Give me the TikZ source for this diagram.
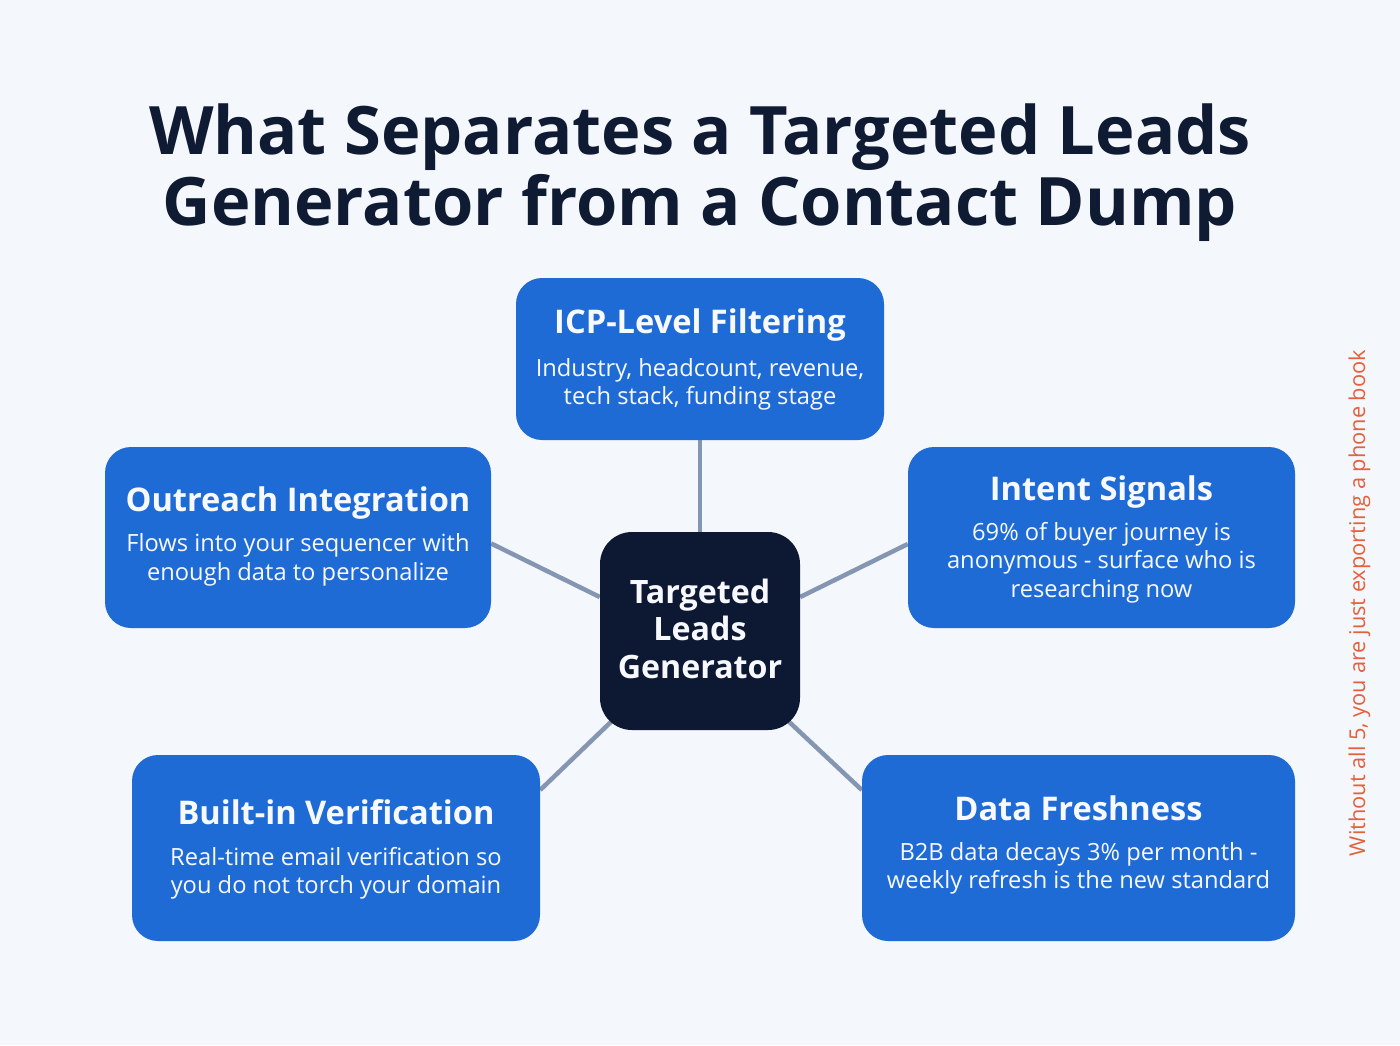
\documentclass[tikz,border=0pt]{standalone}
\usepackage{fontspec}
\setmainfont{Open Sans}
\definecolor{bgc}{HTML}{F4F7FB}
\definecolor{cardblue}{HTML}{1F6BD6}
\definecolor{navy}{HTML}{0D1833}
\definecolor{titlec}{HTML}{0F1A33}
\definecolor{linec}{HTML}{8596B2}
\definecolor{orangec}{HTML}{E5603B}
\definecolor{cardtext}{HTML}{F7F9FF}
\pgfdeclarelayer{bglayer}
\pgfdeclarelayer{linelayer}
\pgfsetlayers{bglayer,linelayer,main}
\begin{document}
\begin{tikzpicture}[x=1pt,y=1pt,
  card/.style={fill=cardblue, rounded corners=26pt, inner sep=0pt},
  hub/.style={fill=navy, rounded corners=32pt, inner sep=0pt},
  cardtitle/.style={anchor=base, text=cardtext, inner sep=0pt, font=\fontsize{32.6}{36}\selectfont\bfseries},
  cardbody/.style={anchor=base, text=cardtext, inner sep=0pt, font=\fontsize{23.7}{27}\selectfont},
  hubtext/.style={anchor=base, text=cardtext, inner sep=0pt, font=\fontsize{32.2}{38}\selectfont\bfseries},
  headline/.style={anchor=base, text=titlec, inner sep=0pt, font=\fontsize{66.8}{72}\selectfont\bfseries},
  conn/.style={draw=linec, line width=4.5pt}
]
\begin{pgfonlayer}{bglayer}
\fill[bgc] (0,0) rectangle (1400,-1045);
\end{pgfonlayer}
\useasboundingbox (0,0) rectangle (1400,-1045);

% headline
\node[headline] (h1) at (700,-154) {What Separates a Targeted Leads};
\node[headline] (h2) at (700,-225) {Generator from a Contact Dump};

% cards
\node[card, minimum width=368pt, minimum height=162pt] (icp) at (700,-359) {};
\node[hub, minimum width=200pt, minimum height=198pt] (ctr) at (700,-631) {};
\node[card, minimum width=386pt, minimum height=181pt] (out) at (298,-537.5) {};
\node[card, minimum width=387pt, minimum height=181pt] (int) at (1101.5,-537.5) {};
\node[card, minimum width=408pt, minimum height=186pt] (bi) at (336,-848) {};
\node[card, minimum width=433pt, minimum height=186pt] (df) at (1078.5,-848) {};

% card texts
\node[cardtitle] (icpT) at (700,-333) {ICP-Level Filtering};
\node[cardbody] (icpB1) at (700,-376) {Industry, headcount, revenue,};
\node[cardbody] (icpB2) at (700,-404) {tech stack, funding stage};

\node[hubtext] (ctr1) at (700,-603) {Targeted};
\node[hubtext] (ctr2) at (700,-640.5) {Leads};
\node[hubtext] (ctr3) at (700,-678) {Generator};

\node[cardtitle] (outT) at (298,-511.5) {Outreach Integration};
\node[cardbody] (outB1) at (298,-551.5) {Flows into your sequencer with};
\node[cardbody] (outB2) at (298,-580) {enough data to personalize};

\node[cardtitle] (intT) at (1101.5,-500) {Intent Signals};
\node[cardbody] (intB1) at (1101.5,-540) {69\% of buyer journey is};
\node[cardbody] (intB2) at (1101.5,-568.5) {anonymous - surface who is};
\node[cardbody] (intB3) at (1101.5,-597) {researching now};

\node[cardtitle] (biT) at (336,-824) {Built-in Verification};
\node[cardbody] (biB1) at (336,-865) {Real-time email verification so};
\node[cardbody] (biB2) at (336,-893.5) {you do not torch your domain};

\node[cardtitle] (dfT) at (1078.5,-820) {Data Freshness};
\node[cardbody] (dfB1) at (1078.5,-860) {B2B data decays 3\% per month -};
\node[cardbody] (dfB2) at (1078.5,-888.5) {weekly refresh is the new standard};

% side note
\node[anchor=base, rotate=90, text=orangec, inner sep=0pt, font=\fontsize{21.8}{25}\selectfont] (note) at (1365,-603) {Without all 5, you are just exporting a phone book};

% connectors
\begin{pgfonlayer}{linelayer}
\draw[conn] (icp.south) -- (ctr.north);
\draw[conn] ([yshift=-6pt]out.east) -- ([yshift=34pt]ctr.west);
\draw[conn] ([yshift=-6.5pt]int.west) -- ([yshift=34pt]ctr.east);
\draw[conn] ([yshift=58pt]bi.east) -- ([shift={(15pt,12pt)}]ctr.south west);
\draw[conn] ([yshift=58pt]df.west) -- ([shift={(-15pt,12pt)}]ctr.south east);
\end{pgfonlayer}
\end{tikzpicture}
\end{document}
